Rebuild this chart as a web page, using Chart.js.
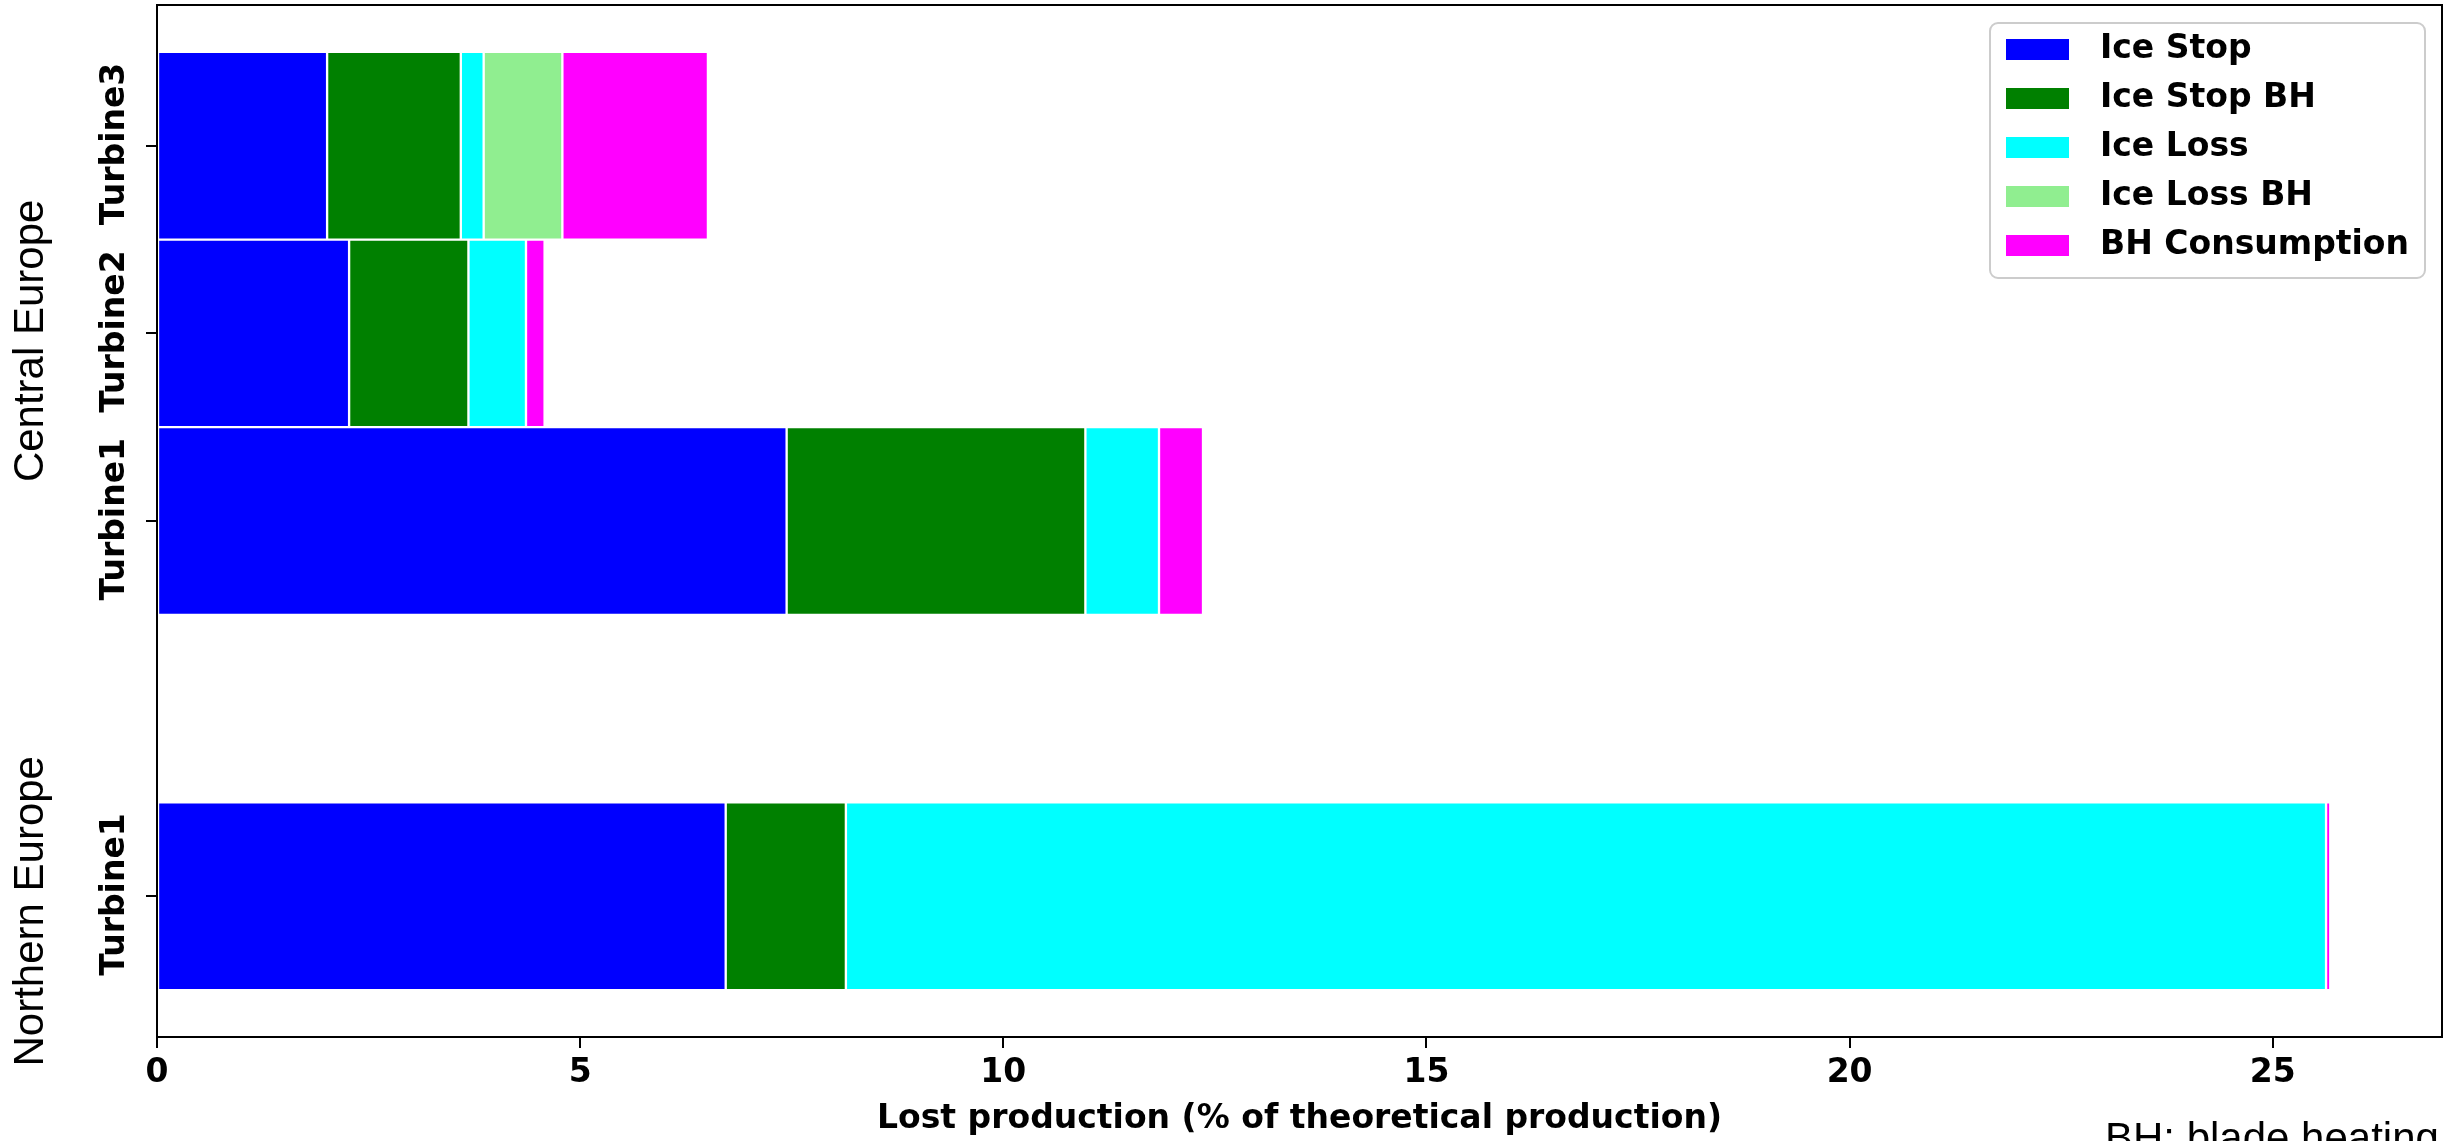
<!DOCTYPE html>
<html>
<head>
<meta charset="utf-8">
<script src="https://cdn.jsdelivr.net/npm/chart.js@4.4.0/dist/chart.umd.min.js"></script>
<style>
  html, body { margin: 0; padding: 0; background: #fff; }
</style>
</head>
<body>
<canvas id="chart" width="2458" height="1141"></canvas>
<script>
// rows, bottom to top; slot 1 stays empty between the two regions
var rowSlots = [0, 2, 3, 4];
var rowLabels = ['Turbine1', 'Turbine1', 'Turbine2', 'Turbine3'];
var regionNames = ['Northern Europe', 'Central Europe'];

var seriesNames = ['Ice Stop', 'Ice Stop BH', 'Ice Loss', 'Ice Loss BH', 'BH Consumption'];
var iceStop       = [6.72, 7.44, 2.27, 2.01];
var iceStopBH     = [1.42, 3.53, 1.41, 1.58];
var iceLoss       = [17.49, 0.87, 0.68, 0.27];
var iceLossBH     = [0, 0, 0, 0.93];
var bhConsumption = [0.05, 0.52, 0.22, 1.72];

var xTicks = [0, 5, 10, 15, 20, 25];
var xMax = 27;
var xTitle = 'Lost production (% of theoretical production)';
var footNote = 'BH: blade heating';

var colors = ['#0000ff', '#008000', '#00ffff', '#90ee90', '#ff00ff'];
var boldFont = { family: '"DejaVu Sans", sans-serif', size: 33, weight: 'bold' };

var datasets = [iceStop, iceStopBH, iceLoss, iceLossBH, bhConsumption].map(function (vals, i) {
    return {
        label: seriesNames[i],
        data: vals.map(function (v, j) { return { x: v, y: rowSlots[j] }; }),
        backgroundColor: colors[i],
        borderColor: '#ffffff',
        borderWidth: 1.5,
        borderSkipped: false,
        barPercentage: 1,
        categoryPercentage: 1
    };
});

// box around the plot, like matplotlib spines
var frame = {
    id: 'frame',
    afterDraw: function (chart) {
        var ctx = chart.ctx, a = chart.chartArea;
        ctx.save();
        ctx.lineWidth = 2;
        ctx.strokeStyle = '#000';
        ctx.strokeRect(a.left, a.top, a.right - a.left, a.bottom - a.top);
        ctx.restore();
    }
};

var legendBox = {
    id: 'legendBox',
    afterDraw: function (chart) {
        var ctx = chart.ctx, a = chart.chartArea;
        var w = 435, h = 255;
        var left = a.right - 17 - w, top = a.top + 18;
        ctx.save();
        ctx.beginPath();
        ctx.roundRect(left, top, w, h, 8);
        ctx.fillStyle = 'rgba(255,255,255,0.8)';
        ctx.fill();
        ctx.lineWidth = 2;
        ctx.strokeStyle = '#cccccc';
        ctx.stroke();
        ctx.font = 'bold 33px "DejaVu Sans"';
        ctx.textBaseline = 'middle';
        chart.data.datasets.forEach(function (ds, i) {
            var cy = top + 26.5 + i * 49;
            ctx.fillStyle = ds.backgroundColor;
            ctx.fillRect(left + 16, cy - 10.5, 63, 21);
            ctx.fillStyle = '#000';
            ctx.fillText(ds.label, left + 110, cy);
        });
        ctx.restore();
    }
};

var sideTexts = {
    id: 'sideTexts',
    afterDraw: function (chart) {
        var ctx = chart.ctx, ys = chart.scales.y;
        ctx.save();
        ctx.fillStyle = '#000';
        ctx.font = '42px "Liberation Sans", Arial, sans-serif';
        [-0.08, 2.96].forEach(function (v, i) {
            ctx.save();
            ctx.translate(43, ys.getPixelForValue(v));
            ctx.rotate(-Math.PI / 2);
            ctx.textAlign = 'center';
            ctx.fillText(regionNames[i], 0, 0);
            ctx.restore();
        });
        ctx.textAlign = 'left';
        ctx.fillText(footNote, 2105, 1152);
        ctx.restore();
    }
};

new Chart(document.getElementById('chart'), {
    type: 'bar',
    data: { datasets: datasets },
    options: {
        indexAxis: 'y',
        responsive: false,
        animation: false,
        layout: { padding: { top: 5, right: 16, left: 0, bottom: 0 } },
        plugins: {
            legend: { display: false },
            tooltip: { enabled: false }
        },
        scales: {
            x: {
                type: 'linear',
                stacked: true,
                min: 0,
                max: xMax,
                afterBuildTicks: function (s) { s.ticks = xTicks.map(function (v) { return { value: v }; }); },
                afterFit: function (s) { s.height = 104; },
                grid: { drawOnChartArea: false, drawTicks: true, tickLength: 11, tickWidth: 2, tickColor: '#000', color: '#000', lineWidth: 2 },
                border: { display: true, color: '#000', width: 2 },
                ticks: { color: '#000', font: boldFont, padding: 6, maxRotation: 0, autoSkip: false },
                title: { display: true, text: xTitle, color: '#000', font: boldFont, padding: { top: 0, bottom: 2 } }
            },
            y: {
                type: 'linear',
                stacked: true,
                offset: false,
                min: -0.75,
                max: 4.75,
                afterBuildTicks: function (s) { s.ticks = rowSlots.map(function (v) { return { value: v }; }); },
                afterFit: function (s) { s.width = 157; s.paddingTop = 0; s.paddingBottom = 0; },
                grid: { offset: false, drawOnChartArea: false, drawTicks: true, tickLength: 11, tickWidth: 2, tickColor: '#000', color: '#000', lineWidth: 2 },
                border: { display: true, color: '#000', width: 2 },
                ticks: {
                    color: '#000',
                    font: boldFont,
                    autoSkip: false,
                    minRotation: 90,
                    maxRotation: 90,
                    labelOffset: -83,
                    padding: 31,
                    callback: function (v) { return rowLabels[rowSlots.indexOf(v)]; }
                }
            }
        }
    },
    plugins: [frame, legendBox, sideTexts]
});
</script>
</body>
</html>
